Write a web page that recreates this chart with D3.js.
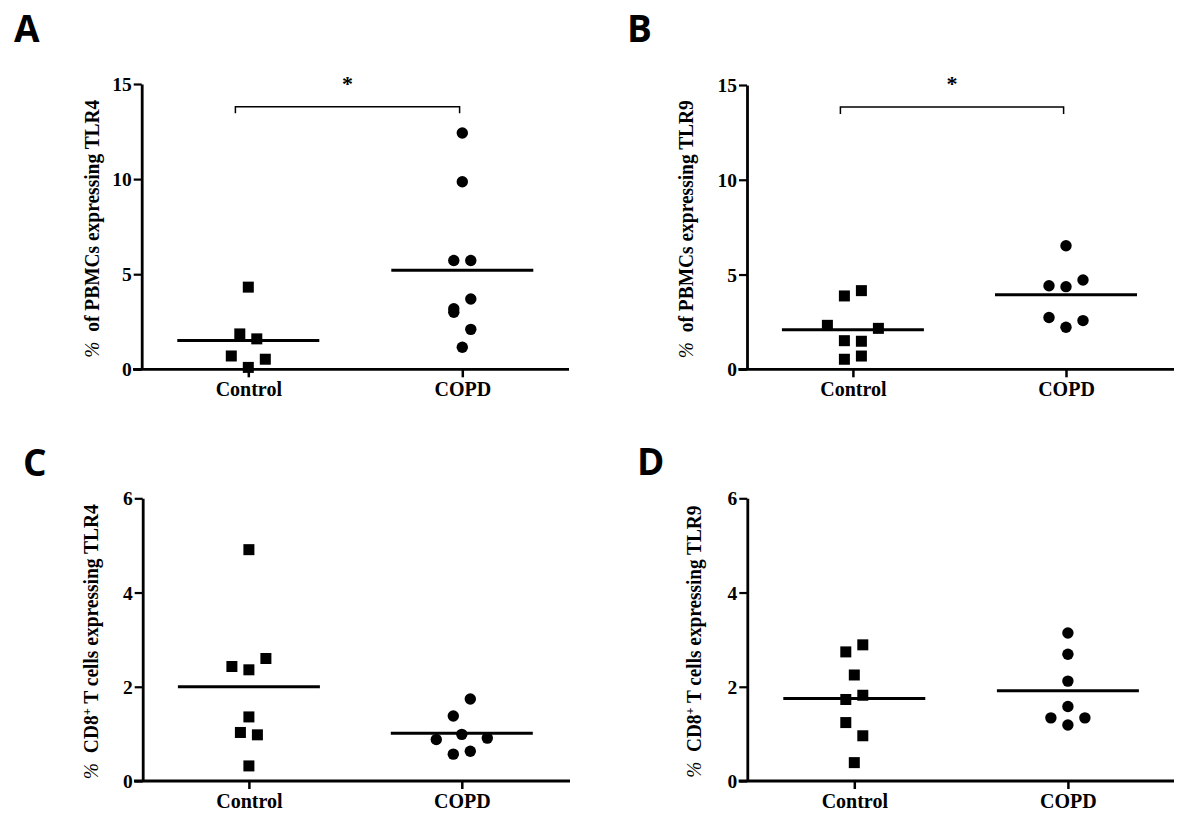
<!DOCTYPE html>
<html>
<head>
<meta charset="utf-8">
<script src="https://cdn.jsdelivr.net/npm/d3@7"></script>
<style>
  html, body { margin: 0; padding: 0; background: #fff; }
  svg { display: block; }
  .tick text { font-family: "Liberation Serif", "Times New Roman", serif; font-weight: bold; }
</style>
</head>
<body>
<svg id="chart" width="1200" height="828"></svg>
<script>
// ---------------- DATA ----------------
const categories = ["Control", "COPD"];

const ticksPbmc = [0, 5, 10, 15];
const ticksCd8 = [0, 2, 4, 6];

// Panel A: % of PBMCs expressing TLR4
const pbmcTlr4Control = [4.32, 1.86, 1.60, 0.70, 0.53, 0.10];
const pbmcTlr4ControlSlots = [0, -1, 1, -2, 2, 0];
const pbmcTlr4Copd = [12.42, 9.86, 5.72, 5.72, 3.70, 3.18, 3.00, 2.10, 1.16];
const pbmcTlr4CopdSlots = [0, 0, -1, 1, 1, -1, -1, 1, 0];

// Panel B: % of PBMCs expressing TLR9
const pbmcTlr9Control = [3.87, 4.15, 2.32, 2.16, 1.51, 1.48, 0.53, 0.70];
const pbmcTlr9ControlSlots = [-1, 1, -3, 3, -1, 1, -1, 1];
const pbmcTlr9Copd = [6.52, 4.71, 4.41, 4.36, 2.73, 2.57, 2.22];
const pbmcTlr9CopdSlots = [0, 2, -2, 0, -2, 2, 0];

// Panel C: % CD8+ T cells expressing TLR4
const cd8Tlr4Control = [4.91, 2.60, 2.43, 2.36, 1.36, 1.03, 0.98, 0.32];
const cd8Tlr4ControlSlots = [0, 2, -2, 0, 0, -1, 1, 0];
const cd8Tlr4Copd = [1.74, 1.38, 0.99, 0.88, 0.91, 0.57, 0.63];
const cd8Tlr4CopdSlots = [1, -1, 0, -3, 3, -1, 1];

// Panel D: % CD8+ T cells expressing TLR9
const cd8Tlr9Control = [2.89, 2.74, 2.25, 1.73, 1.82, 1.24, 0.96, 0.39];
const cd8Tlr9ControlSlots = [1, -1, 0, -1, 1, -1, 1, 0];
const cd8Tlr9Copd = [3.14, 2.69, 2.12, 1.58, 1.34, 1.34, 1.19];
const cd8Tlr9CopdSlots = [0, 0, 0, 0, -2, 2, 0];

const panelLetters = ["A", "B", "C", "D"];
const yLabelMain = ["of PBMCs expressing TLR4", "of PBMCs expressing TLR9",
                    "T cells expressing TLR4", "T cells expressing TLR9"];
const significance = ["*", "*", null, null];

// ---------------- LAYOUT ----------------
const panels = [
  { letter: panelLetters[0], lx: 14, ly: 41.5, axisX: 141.7, yTop: 84, yBot: 369.3, cx: 248.3, dx: 462.3, xEnd: 569,
    yMax: 15, ticks: ticksPbmc, labelX: 99, labelLen: 258, kind: "pbmc", label: yLabelMain[0],
    ctrl: pbmcTlr4Control, ctrlS: pbmcTlr4ControlSlots, copd: pbmcTlr4Copd, copdS: pbmcTlr4CopdSlots,
    sig: significance[0], br: { x1: 235.4, x2: 459.6, y: 106.7, drop: 6.6, starY: 91 } },
  { letter: panelLetters[1], lx: 627, ly: 41.5, axisX: 747, yTop: 85, yBot: 369.3, cx: 852.9, dx: 1066, xEnd: 1174,
    yMax: 15, ticks: ticksPbmc, labelX: 693, labelLen: 258, kind: "pbmc", label: yLabelMain[1],
    ctrl: pbmcTlr9Control, ctrlS: pbmcTlr9ControlSlots, copd: pbmcTlr9Copd, copdS: pbmcTlr9CopdSlots,
    sig: significance[1], br: { x1: 840.4, x2: 1063.6, y: 107, drop: 7, starY: 91 } },
  { letter: panelLetters[2], lx: 23, ly: 476, axisX: 142.7, yTop: 498.3, yBot: 781, cx: 248.9, dx: 461.8, xEnd: 570,
    yMax: 6, ticks: ticksCd8, labelX: 97.5, labelLen: 275, kind: "cd8", label: yLabelMain[2],
    ctrl: cd8Tlr4Control, ctrlS: cd8Tlr4ControlSlots, copd: cd8Tlr4Copd, copdS: cd8Tlr4CopdSlots,
    sig: significance[2] },
  { letter: panelLetters[3], lx: 637, ly: 475, axisX: 747.3, yTop: 498.3, yBot: 781, cx: 854.3, dx: 1067.9, xEnd: 1174,
    yMax: 6, ticks: ticksCd8, labelX: 701, labelLen: 272, kind: "cd8", label: yLabelMain[3],
    ctrl: cd8Tlr9Control, ctrlS: cd8Tlr9ControlSlots, copd: cd8Tlr9Copd, copdS: cd8Tlr9CopdSlots,
    sig: significance[3] }
];

const SERIF = '"Liberation Serif", "Times New Roman", serif';
const slotW = 8.5;
const sq = 11;
const rad = 5.7;
const meanHalf = 71;

const svg = d3.select("#chart");

panels.forEach(p => {
  const g = svg.append("g");

  // panel letter
  g.append("text")
    .attr("x", p.lx).attr("y", p.ly)
    .attr("font-family", '"Open Sans", "Liberation Sans", sans-serif')
    .attr("font-weight", 700)
    .attr("font-size", 37)
    .attr("fill", "#000")
    .text(p.letter);

  const y = d3.scaleLinear().domain([0, p.yMax]).range([p.yBot, p.yTop]);
  const x = d3.scalePoint().domain(categories).range([p.cx, p.dx]);

  // y axis
  const yAxis = d3.axisLeft(y).tickValues(p.ticks).tickSize(8).tickSizeOuter(0).tickPadding(2)
    .tickFormat(d3.format("d"));
  const ya = g.append("g").attr("transform", `translate(${p.axisX},0)`).call(yAxis);
  ya.select(".domain").attr("stroke", "#000").attr("stroke-width", 2.8);
  ya.selectAll(".tick line").attr("stroke", "#000").attr("stroke-width", 2.2);
  ya.selectAll(".tick text").attr("font-size", 19.5).attr("fill", "#000").attr("dy", "0.34em");

  // x axis
  const xAxis = d3.axisBottom(x).tickSize(8).tickPadding(4.5);
  const xa = g.append("g").attr("transform", `translate(0,${p.yBot})`).call(xAxis);
  xa.select(".domain").remove();
  xa.selectAll(".tick line").attr("stroke", "#000").attr("stroke-width", 2.5);
  xa.selectAll(".tick text").attr("font-size", 20).attr("fill", "#000");
  g.append("line")
    .attr("x1", p.axisX - 8.7).attr("x2", p.xEnd)
    .attr("y1", p.yBot).attr("y2", p.yBot)
    .attr("stroke", "#000").attr("stroke-width", 2.8);

  // y label (rotated)
  const midY = (p.yTop + p.yBot) / 2 + 2;
  const lab = g.append("text")
    .attr("transform", `translate(${p.labelX},${midY}) rotate(-90)`)
    .attr("text-anchor", "middle")
    .attr("font-family", SERIF)
    .attr("font-weight", "bold")
    .attr("font-size", 20.5)
    .attr("fill", "#000")
    .attr("textLength", p.labelLen)
    .attr("lengthAdjust", "spacingAndGlyphs")
    .style("white-space", "pre");
  lab.append("tspan").attr("font-style", "italic").attr("font-weight", "normal").text("%");
  if (p.kind === "pbmc") {
    lab.append("tspan").text("  " + p.label);
  } else {
    lab.append("tspan").text("  CD8");
    lab.append("tspan").attr("font-size", 13).attr("dy", -7).text("+");
    lab.append("tspan").attr("dy", 7).text(" " + p.label);
  }

  // data points
  const groups = [
    { cat: categories[0], vals: p.ctrl, slots: p.ctrlS, shape: "square" },
    { cat: categories[1], vals: p.copd, slots: p.copdS, shape: "circle" }
  ];
  groups.forEach(grp => {
    const pts = grp.vals.map((v, i) => ({ v, s: grp.slots[i] }));
    const cxp = x(grp.cat);
    if (grp.shape === "square") {
      g.selectAll(null).data(pts).enter().append("rect")
        .attr("x", d => cxp + d.s * slotW - sq / 2)
        .attr("y", d => y(d.v) - sq / 2)
        .attr("width", sq).attr("height", sq)
        .attr("fill", "#000");
    } else {
      g.selectAll(null).data(pts).enter().append("circle")
        .attr("cx", d => cxp + d.s * slotW)
        .attr("cy", d => y(d.v))
        .attr("r", rad)
        .attr("fill", "#000");
    }
    const m = d3.mean(grp.vals);
    g.append("line")
      .attr("x1", cxp - meanHalf).attr("x2", cxp + meanHalf)
      .attr("y1", y(m)).attr("y2", y(m))
      .attr("stroke", "#000").attr("stroke-width", 3);
  });

  // significance bracket
  if (p.sig) {
    const b = p.br;
    g.append("path")
      .attr("d", `M${b.x1},${b.y + b.drop}V${b.y}H${b.x2}V${b.y + b.drop}`)
      .attr("fill", "none").attr("stroke", "#000").attr("stroke-width", 1.5);
    g.append("text")
      .attr("x", (b.x1 + b.x2) / 2).attr("y", b.starY)
      .attr("text-anchor", "middle")
      .attr("font-family", SERIF).attr("font-weight", "bold")
      .attr("font-size", 22).attr("fill", "#000")
      .text(p.sig);
  }
});
</script>
</body>
</html>
